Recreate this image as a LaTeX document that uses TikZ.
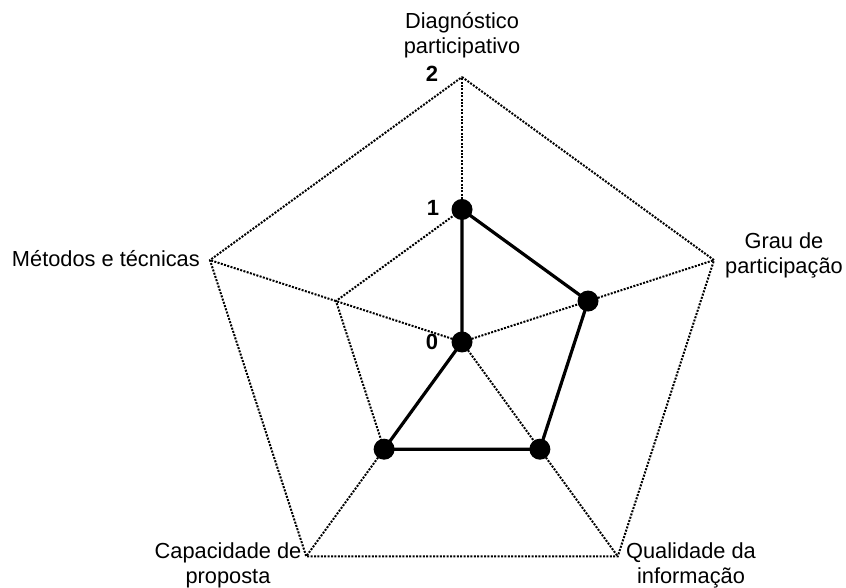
\documentclass[tikz,border=0pt]{standalone}
\usepackage{fontspec}
\setmainfont{Liberation Sans}
\begin{document}
\begin{tikzpicture}[x=1pt,y=1pt,
  grid/.style={line width=2pt,dash pattern=on 2pt off 1.4pt,black},
  series/.style={line width=3.2pt,line join=round},
  datadot/.style={circle,fill=black,inner sep=0pt,minimum size=21pt},
  axislabel/.style={font=\fontsize{21.8}{25}\selectfont,align=center,inner sep=1pt},
  scalelabel/.style={font=\fontsize{22}{24}\selectfont\bfseries,inner sep=0pt}]
\useasboundingbox (0,0) rectangle (846,588);
% centre of the chart
\coordinate (o) at (462,246);
% outer (level 2) and middle (level 1) vertices
\foreach \n/\a in {d/90,g/18,q/-54,c/-126,m/162}{
  \path (o) ++(\a:265) coordinate (\n2);
  \path (o) ++(\a:132.5) coordinate (\n1);
}
% grid rings and spokes
\draw[grid] (d2) -- (g2) -- (q2) -- (c2) -- (m2) -- cycle;
\draw[grid] (d1) -- (g1) -- (q1) -- (c1) -- (m1) -- cycle;
\foreach \n in {d,g,q,c,m}{ \draw[grid] (o) -- (\n2); }
% data series
\node[datadot] (pd) at (d1) {};
\node[datadot] (pg) at (g1) {};
\node[datadot] (pq) at (q1) {};
\node[datadot] (pc) at (c1) {};
\node[datadot] (pm) at (o) {};
\draw[series] (pd.center) -- (pg.center) -- (pq.center) -- (pc.center) -- (pm.center) -- cycle;
% scale labels
\node[scalelabel] (s2) at (432,514) {2};
\node[scalelabel] (s1) at (433,380) {1};
\node[scalelabel] (s0) at (432,246) {0};
% axis labels
\node[axislabel] (ld) at (462,553) {Diagnóstico\\participativo};
\node[axislabel,anchor=east] (lm) at (201,329) {Métodos e técnicas};
\node[axislabel] (lg) at (784,333) {Grau de\\participação};
\node[axislabel] (lc) at (228,23) {Capacidade de\\proposta};
\node[axislabel] (lq) at (691,23) {Qualidade da\\informação};
\end{tikzpicture}
\end{document}
